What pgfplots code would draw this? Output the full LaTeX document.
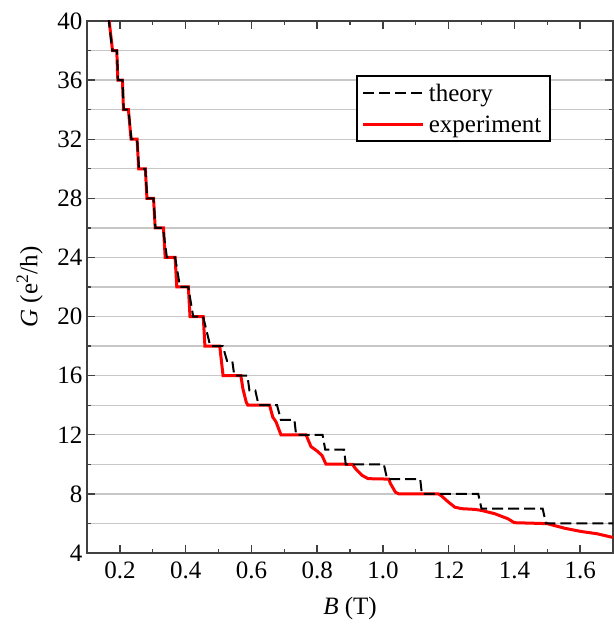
\documentclass[border=0pt]{standalone}
\usepackage{fontspec}
\setmainfont{Liberation Serif}
\usepackage{pgfplots}
\pgfplotsset{compat=1.18}
\begin{document}
\begin{tikzpicture}[font=\fontsize{25}{30}\selectfont]
\begin{axis}[name=ax, scale only axis, width=526pt, height=532pt,
  xmin=0.1, xmax=1.7, ymin=4, ymax=40,
  xtick={0.2,0.4,...,1.6}, minor x tick num=1,
  ytick={4,8,...,40}, minor y tick num=1,
  tick pos=both, ticklabel pos=left, tick align=inside,
  major tick length=8pt, minor tick length=4pt,
  every tick/.style={line width=1.3pt, black!75},
  axis line style={line width=1.5pt, black!75},
  ymajorgrids, yminorgrids,
  major grid style={line width=1.3pt, black!22},
  minor grid style={line width=1.3pt, black!22},
  xticklabel style={yshift=-5pt, /pgf/number format/.cd, fixed, fixed zerofill, precision=1},
  yticklabel style={xshift=-1pt},
  /pgf/number format/assume math mode=true,
  xlabel={\textit{B} (T)}, ylabel={\textit{G} (e\textsuperscript{2}/h)},
  xlabel style={yshift=-12pt},
  ylabel style={yshift=8pt},
  legend style={at={(0.511,0.898)}, anchor=north west, draw=black, line width=2.2pt,
    inner xsep=5pt, inner ysep=4pt, row sep=6pt,
    nodes={inner xsep=4pt, inner ysep=3.5pt}},
  legend cell align=left,
  legend image code/.code={\draw[#1] (0pt,0pt) -- (60pt,0pt);},
  clip=true,
]
\addlegendimage{black, line width=2pt, dash pattern=on 11pt off 5pt}
\addlegendentry{theory}
\addlegendimage{red, line width=3pt}
\addlegendentry{experiment}
\addplot[red, line width=3pt, forget plot] coordinates {
(0.166,40.3)(0.1776,38)(0.1906,38)(0.1937,36)(0.2078,36)(0.2109,34)(0.226,34)(0.234,32)(0.2523,32)(0.2573,30)(0.2775,30)(0.2823,28)(0.3024,28)(0.3074,26)(0.3326,26)(0.3378,24)(0.368,24)(0.3731,22)(0.4083,22)(0.4133,20)(0.4536,20)(0.4587,18)(0.5038,18)(0.5139,16)(0.568,16)(0.5744,15.1)(0.5844,14.2)(0.5894,14)(0.6554,14)(0.665,13.2)(0.675,12.87)(0.69,12)(0.7662,12)(0.7813,11.2)(0.80,10.9)(0.815,10.6)(0.8266,10.02)(0.9071,10)(0.917,9.7)(0.937,9.25)(0.955,9.03)(1.0179,9)(1.023,8.7)(1.038,8.12)(1.048,8.0)(1.169,8)(1.179,7.85)(1.199,7.45)(1.219,7.1)(1.2395,7.0)(1.28,6.95)(1.30,6.88)(1.34,6.66)(1.38,6.32)(1.40,6.05)(1.481,6.0)(1.501,5.98)(1.552,5.68)(1.602,5.46)(1.652,5.3)(1.70,5.05)
};
\addplot[black, line width=2pt, dash pattern=on 11pt off 5pt, forget plot] coordinates {
(0.165,40.3)(0.177,38)(0.191,38)(0.1945,36)(0.208,36)(0.2115,34)(0.226,34)(0.235,32)(0.2523,32)(0.258,30)(0.2775,30)(0.283,28)(0.3024,28)(0.308,26)(0.331,26)(0.343,24)(0.368,24)(0.383,22)(0.408,22)(0.423,20)(0.453,20)(0.475,18)(0.513,18)(0.526,17)(0.542,17)(0.548,16)(0.588,16)(0.594,15)(0.612,15)(0.622,14)(0.678,14)(0.69,13)(0.731,13)(0.736,12)(0.8165,12)(0.8246,11)(0.882,11)(0.887,10)(1.003,10)(1.013,9)(1.1136,9)(1.1186,8)(1.29,8)(1.30,7)(1.486,7)(1.496,6)(1.72,6)
};
\end{axis}
\pgfresetboundingbox
\useasboundingbox ([shift={(-87pt,-76pt)}]ax.south west) rectangle ([shift={(1pt,21pt)}]ax.north east);
\end{tikzpicture}
\end{document}
